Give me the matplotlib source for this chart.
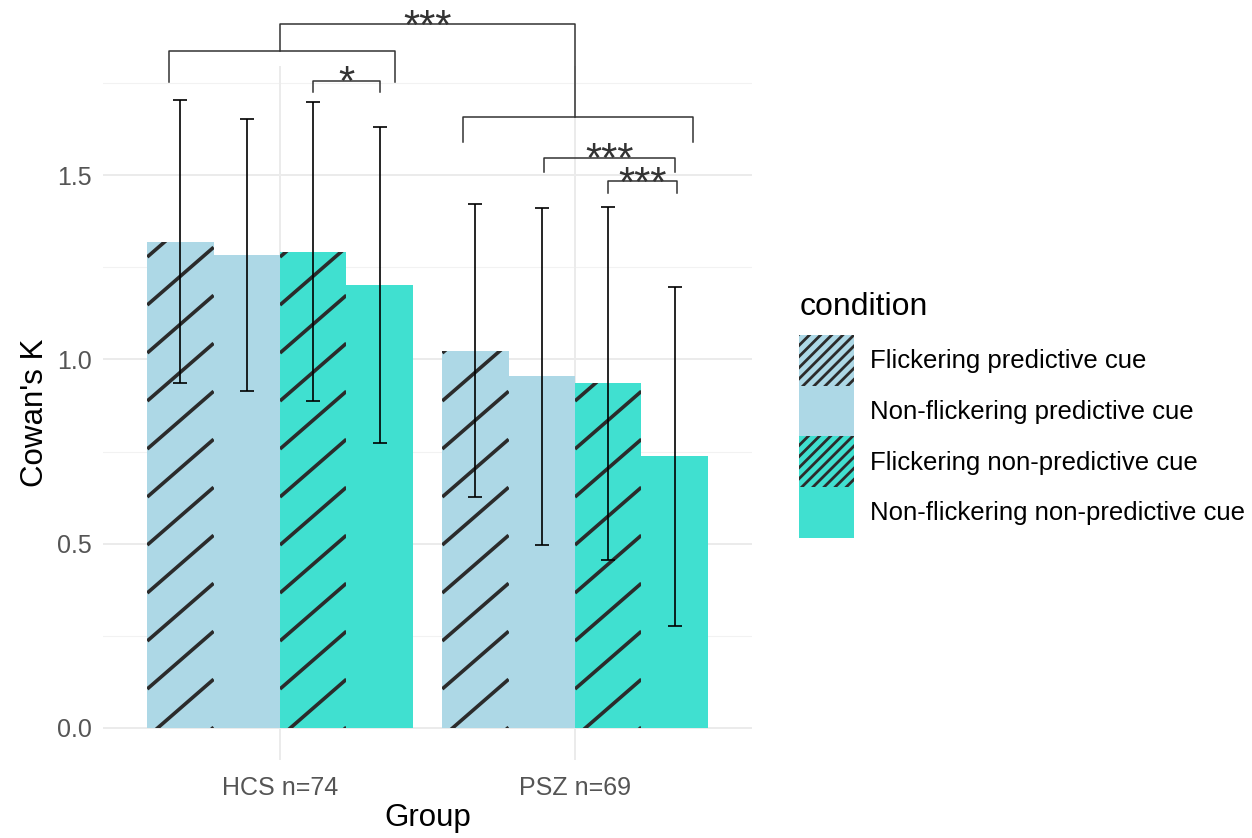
import numpy as np
import matplotlib
matplotlib.use("Agg")
import matplotlib.pyplot as plt
from matplotlib.patches import Patch
from matplotlib.lines import Line2D
from matplotlib.transforms import IdentityTransform

plt.rcParams['font.family'] = ['Liberation Sans', 'DejaVu Sans']
plt.rcParams['hatch.linewidth'] = 2.0

# ── data ──
groups = ["HCS n=74", "PSZ n=69"]
conditions = ["Flickering predictive cue", "Non-flickering predictive cue",
              "Flickering non-predictive cue", "Non-flickering non-predictive cue"]

# mean Cowan's K per condition (HCS, PSZ)
flick_pred_mean = [1.319, 1.024]
nonflick_pred_mean = [1.284, 0.954]
flick_nonpred_mean = [1.292, 0.937]
nonflick_nonpred_mean = [1.201, 0.737]

# error bar limits (HCS, PSZ)
flick_pred_lo = [0.935, 0.627]
flick_pred_hi = [1.705, 1.423]
nonflick_pred_lo = [0.914, 0.497]
nonflick_pred_hi = [1.652, 1.412]
flick_nonpred_lo = [0.888, 0.457]
flick_nonpred_hi = [1.700, 1.415]
nonflick_nonpred_lo = [0.774, 0.278]
nonflick_nonpred_hi = [1.630, 1.197]

means = [flick_pred_mean, nonflick_pred_mean, flick_nonpred_mean, nonflick_nonpred_mean]
lows = [flick_pred_lo, nonflick_pred_lo, flick_nonpred_lo, nonflick_nonpred_lo]
highs = [flick_pred_hi, nonflick_pred_hi, flick_nonpred_hi, nonflick_nonpred_hi]
colors = ["#ADD8E6", "#ADD8E6", "#40E0D0", "#40E0D0"]
hatched = [True, False, True, False]

# significance brackets: (x_left, x_right, y_bar, y_tip_left, y_tip_right, label)
sig_brackets = [
    (1.0, 2.0, 1.910, 1.837, 1.658, "***"),
    (0.624, 1.390, 1.837, 1.753, 1.753, None),
    (1.620, 2.400, 1.658, 1.590, 1.590, None),
    (1.112, 1.339, 1.756, 1.726, 1.726, "*"),
    (1.895, 2.339, 1.547, 1.509, 1.509, "***"),
    (2.112, 2.346, 1.484, 1.452, 1.452, "***"),
]

W, H = 1252, 838
fig = plt.figure(figsize=(W / 100, H / 100), dpi=100)
ax = fig.add_axes([103 / W, (H - 759.5) / H, 649 / W, 693 / H])
ax.set_xlim(0.4, 2.6)
ax.set_ylim(-0.0855, 1.795)

# grid
for y in [0.25, 0.75, 1.25, 1.75]:
    ax.axhline(y, color="#F2F2F2", lw=0.8, zorder=0)
for y in [0, 0.5, 1.0, 1.5]:
    ax.axhline(y, color="#EBEBEB", lw=1.4, zorder=0)
for x in [1, 2]:
    ax.axvline(x, color="#EBEBEB", lw=1.4, zorder=0)

x = np.arange(1, len(groups) + 1)
width = 0.9 / 4
offsets = (np.arange(4) - 1.5) * width

stripe_col = "#2B2B2B"


def add_stripes(bar, spacing=48, angle=41, phase=39):
    x0, y0 = ax.transData.transform((bar.get_x(), bar.get_y()))
    x1, y1 = ax.transData.transform((bar.get_x() + bar.get_width(), bar.get_y() + bar.get_height()))
    slope = np.tan(np.radians(angle))
    w = x1 - x0
    start = phase - spacing * np.ceil((phase + slope * w) / spacing)
    for c in np.arange(start, (y1 - y0) + spacing, spacing):
        ln = Line2D([x0, x1], [y0 + c, y0 + c + slope * w], transform=IdentityTransform(),
                    color=stripe_col, lw=2.6, solid_capstyle="butt", zorder=2.5)
        ax.add_artist(ln)
        ln.set_clip_path(bar)


for i in range(4):
    bars = ax.bar(x + offsets[i], means[i], width, color=colors[i], linewidth=0, zorder=2)
    if hatched[i]:
        for b in bars:
            add_stripes(b)
    m = np.array(means[i])
    yerr = [m - np.array(lows[i]), np.array(highs[i]) - m]
    ax.errorbar(x + offsets[i], m, yerr=yerr, fmt="none", ecolor="black",
                elinewidth=1.2, capsize=5, capthick=1.2, zorder=3)

# significance brackets
for xl, xr, yb, ytl, ytr, lab in sig_brackets:
    ax.plot([xl, xl, xr, xr], [ytl, yb, yb, ytr], color="#333333", lw=1.1,
            clip_on=False, zorder=4)
    if lab:
        ax.annotate(lab, xy=((xl + xr) / 2, yb), xytext=(0, -10.5), textcoords="offset points",
                    ha="center", va="baseline", fontsize=30, color="#333333",
                    annotation_clip=False)

ax.set_xticks(x)
ax.set_xticklabels(groups)
ax.set_yticks([0, 0.5, 1.0, 1.5])
ax.set_yticklabels(["0.0", "0.5", "1.0", "1.5"])
ax.tick_params(length=0, labelsize=18, labelcolor="#555555")
ax.tick_params(axis="x", pad=12)
ax.tick_params(axis="y", pad=8)
for s in ax.spines.values():
    s.set_visible(False)
ax.set_xlabel("Group", fontsize=22.5, labelpad=2)
ax.set_ylabel("Cowan's K", fontsize=22.5, labelpad=5)

handles = []
for i in range(4):
    if hatched[i]:
        handles.append(Patch(facecolor=colors[i], edgecolor=stripe_col, hatch="///", linewidth=0))
    else:
        handles.append(Patch(facecolor=colors[i], edgecolor="none", linewidth=0))
fig.text(800 / W, 1 - 315 / H, "condition", fontsize=23, ha="left", va="baseline")
leg = fig.legend(handles, conditions, loc="upper left",
                 bbox_to_anchor=(799 / W, 1 - 335 / H), frameon=False,
                 fontsize=18.5, handlelength=2.14, handleheight=2.66,
                 labelspacing=0, handletextpad=0.62, borderpad=0, borderaxespad=0)

fig.savefig("out.png", dpi=100)
